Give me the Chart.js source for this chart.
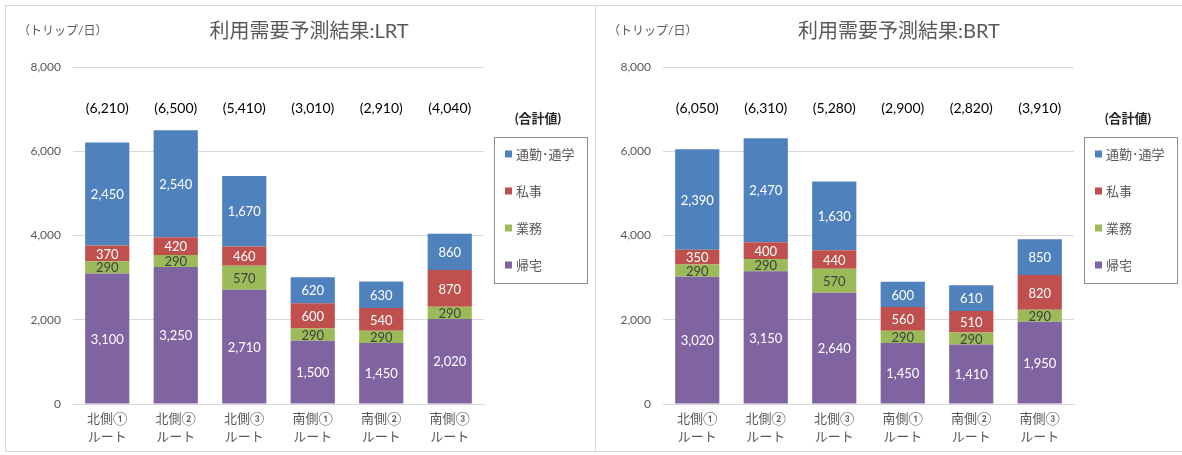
<!DOCTYPE html>
<html>
<head>
<meta charset="utf-8">
<script src="https://cdn.jsdelivr.net/npm/chart.js@4.4.1/dist/chart.umd.min.js"></script>
<style>
  html, body { margin: 0; padding: 0; background: #fff; }
  body { width: 1182px; height: 455px; position: relative; overflow: hidden; }
  .panel { position: absolute; top: 5px; height: 447px; border: 1px solid #d9d9d9; box-sizing: border-box; }
  #panelL { left: 5px; width: 591px; }
  #panelR { left: 595px; width: 592px; }
  canvas { position: absolute; left: 0; top: 0; }
</style>
</head>
<body>
<div class="panel" id="panelL"><canvas id="chartL" width="590" height="448"></canvas></div>
<div class="panel" id="panelR"><canvas id="chartR" width="590" height="448"></canvas></div>
<script>
// 利用需要予測結果 — LRT / BRT stacked bars

const categories = [
  ["北側①", "ルート"], ["北側②", "ルート"], ["北側③", "ルート"],
  ["南側①", "ルート"], ["南側②", "ルート"], ["南側③", "ルート"],
];
const seriesNames = ["帰宅", "業務", "私事", "通勤･通学"];
const legendOrder = ["通勤･通学", "私事", "業務", "帰宅"];

// LRT
const lrtKitaku  = [3100, 3250, 2710, 1500, 1450, 2020];
const lrtGyomu   = [290, 290, 570, 290, 290, 290];
const lrtShiji   = [370, 420, 460, 600, 540, 870];
const lrtTsukin  = [2450, 2540, 1670, 620, 630, 860];
const lrtTotals  = [6210, 6500, 5410, 3010, 2910, 4040];

// BRT
const brtKitaku  = [3020, 3150, 2640, 1450, 1410, 1950];
const brtGyomu   = [290, 290, 570, 290, 290, 290];
const brtShiji   = [350, 400, 440, 560, 510, 820];
const brtTsukin  = [2390, 2470, 1630, 600, 610, 850];
const brtTotals  = [6050, 6310, 5280, 2900, 2820, 3910];

const yTicks = [0, 2000, 4000, 6000, 8000];

const COLORS = {
  "通勤･通学": "#4f81bd",
  "私事":       "#c0504d",
  "業務":       "#9bbb59",
  "帰宅":       "#8064a2",
};

const FONT = "Lato, 'Noto Sans CJK JP', sans-serif";
const TEXT = "#595959";

const fmt = v => v.toLocaleString("en-US");

// segment labels + totals + title + legend, drawn on the canvas
const decorPlugin = {
  id: "decor",
  afterDatasetsDraw(chart) {
    const { ctx } = chart;
    const opts = chart.options.plugins.decor;

    ctx.save();
    ctx.textAlign = "center";
    ctx.textBaseline = "middle";

    // values inside each segment
    chart.data.datasets.forEach((ds, i) => {
      const meta = chart.getDatasetMeta(i);
      ctx.font = `13px ${FONT}`;
      ctx.fillStyle = ds.label === "業務" ? "#404040" : "#ffffff";
      meta.data.forEach((bar, j) => {
        ctx.fillText(fmt(ds.data[j]), bar.x, (bar.y + bar.base) / 2 + 1);
      });
    });

    // totals row
    const meta0 = chart.getDatasetMeta(0);
    ctx.font = `14px ${FONT}`;
    ctx.fillStyle = "#000000";
    opts.totals.forEach((t, j) => {
      ctx.fillText(`(${fmt(t)})`, meta0.data[j].x, 102);
    });

    // chart title
    ctx.font = `20px ${FONT}`;
    ctx.fillStyle = TEXT;
    ctx.fillText(opts.title, 303, 26);

    // unit label
    ctx.font = `12px ${FONT}`;
    ctx.textAlign = "left";
    ctx.fillText("（トリップ/日）", 12, 25);

    // legend
    ctx.textAlign = "center";
    ctx.font = `bold 13px ${FONT}`;
    ctx.fillStyle = "#262626";
    ctx.fillText("(合計値)", 532, 113);

    ctx.strokeStyle = "#8c8c8c";
    ctx.lineWidth = 1;
    ctx.strokeRect(488.5, 131.5, 93, 146);

    ctx.textAlign = "left";
    ctx.font = `13px ${FONT}`;
    legendOrder.forEach((name, k) => {
      const y = 148 + k * 37;
      ctx.fillStyle = COLORS[name];
      ctx.fillRect(499, y - 3.5, 7, 7);
      ctx.fillStyle = TEXT;
      ctx.fillText(name, 510, y + 1);
    });

    ctx.restore();
  },
};

function buildChart(id, title, kitaku, gyomu, shiji, tsukin, totals) {
  const values = { "帰宅": kitaku, "業務": gyomu, "私事": shiji, "通勤･通学": tsukin };
  return new Chart(document.getElementById(id).getContext("2d"), {
    type: "bar",
    data: {
      labels: categories,
      datasets: seriesNames.map(name => ({
        label: name,
        data: values[name],
        backgroundColor: COLORS[name],
        borderWidth: 0,
        categoryPercentage: 1,
        barPercentage: 0.645,
      })),
    },
    options: {
      responsive: false,
      animation: false,
      layout: { padding: { top: 61, right: 112, bottom: 0, left: 0 } },
      plugins: {
        legend: { display: false },
        tooltip: { enabled: false },
        decor: { title, totals },
      },
      scales: {
        x: {
          stacked: true,
          afterFit: s => { s.height = 50; },
          grid: { display: false },
          border: { display: true, color: "#d9d9d9" },
          ticks: { color: TEXT, font: { family: FONT, size: 13, lineHeight: 1.45 }, padding: -3, maxRotation: 0 },
        },
        y: {
          stacked: true,
          min: 0,
          max: 8000,
          afterFit: s => { s.width = 67; },
          afterBuildTicks: s => { s.ticks = yTicks.map(v => ({ value: v })); },
          grid: { color: "#d9d9d9", drawTicks: false },
          border: { display: false },
          ticks: { color: TEXT, font: { family: FONT, size: 12 }, padding: 12, callback: v => fmt(v) },
        },
      },
    },
    plugins: [decorPlugin],
  });
}

buildChart("chartL", "利用需要予測結果:LRT", lrtKitaku, lrtGyomu, lrtShiji, lrtTsukin, lrtTotals);
buildChart("chartR", "利用需要予測結果:BRT", brtKitaku, brtGyomu, brtShiji, brtTsukin, brtTotals);
</script>
</body>
</html>
